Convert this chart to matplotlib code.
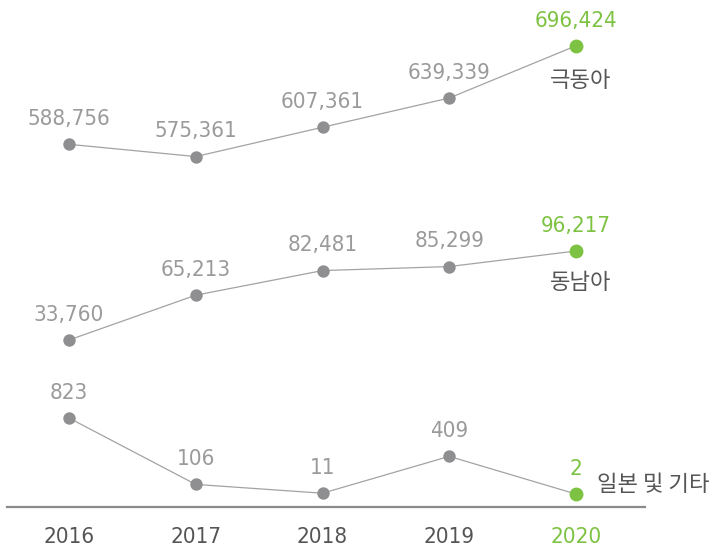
import matplotlib
matplotlib.use("Agg")
import matplotlib.pyplot as plt
from matplotlib.lines import Line2D
from matplotlib.transforms import blended_transform_factory

years = [2016, 2017, 2018, 2019, 2020]
far_east = [588756, 575361, 607361, 639339, 696424]
se_asia = [33760, 65213, 82481, 85299, 96217]
japan_etc = [823, 106, 11, 409, 2]
series_names = ["극동아", "동남아", "일본 및 기타"]

GRAY = "#8f8f91"
LINE = "#a3a3a3"
TXT = "#9a9a9a"
DARK = "#555555"
GREEN = "#7dc242"

plt.rcParams["font.family"] = ["DejaVu Sans"]
plt.rcParams["font.stretch"] = "condensed"
KR = ["Noto Sans CJK KR", "DejaVu Sans"]

fig = plt.figure(figsize=(7.12, 5.51), dpi=100)

# each series gets its own full-figure axes with its own value scale
ylims = [(144290, 746475), (-114310, 272356), (-613, 5337)]
all_series = [far_east, se_asia, japan_etc]
name_offsets = [((3, -25), "center", "center"),
                ((3, -23), "center", "center"),
                ((15, 7), "left", "center")]

for vals, ylim, name, (off, ha, va) in zip(all_series, ylims, series_names, name_offsets):
    ax = fig.add_axes([0, 0, 1, 1])
    ax.set_xlim(2015.4556, 2021.073)
    ax.set_ylim(*ylim)
    ax.axis("off")
    ax.patch.set_alpha(0)
    ax.plot(years, vals, color=LINE, lw=0.9, zorder=1)
    ax.scatter(years[:-1], vals[:-1], s=80, color=GRAY, zorder=2, linewidths=0)
    ax.scatter(years[-1:], vals[-1:], s=100, color=GREEN, zorder=2, linewidths=0)
    for i, (x, v) in enumerate(zip(years, vals)):
        ax.annotate(f"{v:,}", (x, v), xytext=(0, 11), textcoords="offset points",
                    ha="center", va="bottom", fontsize=16,
                    color=GREEN if i == len(vals) - 1 else TXT)
    ax.annotate(name, (years[-1], vals[-1]), xytext=off, textcoords="offset points",
                ha=ha, va=va, fontsize=16, color=DARK, family=KR, fontweight="light",
                fontstretch="normal")

# baseline and year labels
fig.add_artist(Line2D([7 / 712, 645 / 712], [1 - 507 / 551] * 2, color="#8a8a8a", lw=1.6))
trans = blended_transform_factory(ax.transData, fig.transFigure)
for i, y in enumerate(years):
    ax.text(y, 1 - 537 / 551, str(y), transform=trans, ha="center", va="center",
            fontsize=16, color=GREEN if i == len(years) - 1 else DARK)

fig.savefig("out.png", dpi=100)
